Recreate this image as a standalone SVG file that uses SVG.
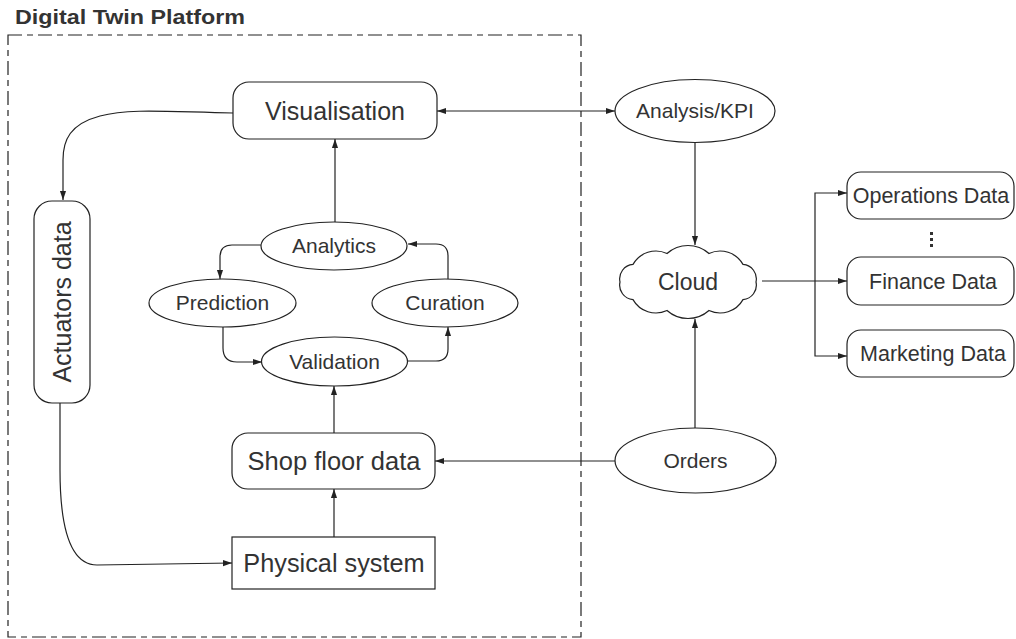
<svg xmlns="http://www.w3.org/2000/svg" width="1016" height="639" viewBox="0 0 1016 639">
<style>
text{font-family:"Liberation Sans",Arial,sans-serif;fill:#333;}
.n{fill:#fff;stroke:#222;stroke-width:1.2;}
.c{fill:none;stroke:#222;stroke-width:1.2;}
.a{marker-end:url(#ah);}
.m{text-anchor:middle;}
</style>
<defs>
<marker id="ah" viewBox="0 0 10 8" refX="10" refY="4" markerWidth="9" markerHeight="7.2" orient="auto-start-reverse" markerUnits="userSpaceOnUse">
<path d="M0,0.6 L10,4 L0,7.4 z" fill="#222"/>
</marker>
</defs>
<text x="15" y="24" font-size="20.5" font-weight="bold" textLength="230" lengthAdjust="spacingAndGlyphs">Digital Twin Platform</text>
<rect x="8" y="35" width="573" height="602" fill="none" stroke="#222" stroke-width="1.2" stroke-dasharray="14,5,6,5"/>
<g id="connectors">
<path class="c" d="M437,111 L615,111" marker-start="url(#ah)" marker-end="url(#ah)"/>
<path class="c a" d="M335,222 L335,139"/>
<path class="c a" d="M233,113 C170,112 130,108 100,116 C70,124 63,140 63,160 L63,200"/>
<path class="c a" d="M60,403 L60,470 C60,540 75,565 97,565 L232,563"/>
<path class="c a" d="M261,245 L232,245 Q220,245 220,257 L220,279"/>
<path class="c a" d="M223,327 L223,348 Q223,362 237,362 L262,362"/>
<path class="c a" d="M407,361 L436,361 Q448,361 448,349 L448,327"/>
<path class="c a" d="M448,279 L448,256 Q448,244 436,244 L408,244"/>
<path class="c a" d="M334,433 L334,386"/>
<path class="c a" d="M334,537 L334,489"/>
<path class="c a" d="M615,461 L435,461"/>
<path class="c a" d="M695,428 L695,319"/>
<path class="c a" d="M695,143 L695,245"/>
<path class="c a" d="M762,281 L847,281"/>
<path class="c a" d="M815,281 L815,193 L847,193"/>
<path class="c a" d="M815,281 L815,356 L847,356"/>
</g>
<g id="visualisation">
<rect class="n" x="233" y="82" width="204" height="57" rx="16"/>
<text class="m" x="335" y="120" font-size="25">Visualisation</text>
</g>
<g id="analysis-kpi">
<ellipse class="n" cx="695" cy="111" rx="80" ry="31.5"/>
<text class="m" x="695" y="118" font-size="21">Analysis/KPI</text>
</g>
<g id="actuators">
<rect class="n" x="34" y="201" width="56" height="202" rx="18"/>
<text class="m" transform="translate(71,302) rotate(-90)" font-size="25">Actuators data</text>
</g>
<g id="analytics">
<ellipse class="n" cx="334" cy="246" rx="73" ry="24"/>
<text class="m" x="334" y="253" font-size="21">Analytics</text>
</g>
<g id="prediction">
<ellipse class="n" cx="222.5" cy="303" rx="73.5" ry="24"/>
<text class="m" x="222.5" y="310" font-size="21">Prediction</text>
</g>
<g id="curation">
<ellipse class="n" cx="445" cy="303" rx="73" ry="24"/>
<text class="m" x="445" y="310" font-size="21">Curation</text>
</g>
<g id="validation">
<ellipse class="n" cx="334.5" cy="361.5" rx="73" ry="24.5"/>
<text class="m" x="334.5" y="368.5" font-size="21">Validation</text>
</g>
<g id="shopfloor">
<rect class="n" x="232" y="433" width="203" height="56" rx="16"/>
<text class="m" x="334" y="470" font-size="25.5">Shop floor data</text>
</g>
<g id="physical">
<rect class="n" x="232" y="537" width="203" height="52"/>
<text class="m" x="334" y="572" font-size="25.3">Physical system</text>
</g>
<g id="cloud">
<path class="n" d="M756,282 A14.5,14.5 0 0 0 743,264.4 A26.3,26.3 0 0 0 709,253.5 A31.6,31.6 0 0 0 667,253.5 A26.3,26.3 0 0 0 633,264.4 A14.5,14.5 0 0 0 620,282 A14.5,14.5 0 0 0 633,299.6 A26.3,26.3 0 0 0 667,310.5 A31.6,31.6 0 0 0 709,310.5 A26.3,26.3 0 0 0 743,299.6 A14.5,14.5 0 0 0 756,282 Z"/>
<text class="m" x="688" y="290" font-size="23">Cloud</text>
</g>
<g id="orders">
<ellipse class="n" cx="695.5" cy="460.5" rx="80.5" ry="32.5"/>
<text class="m" x="695.5" y="468" font-size="21">Orders</text>
</g>
<g id="operations">
<rect class="n" x="847" y="172" width="167" height="47" rx="14"/>
<text class="m" x="931" y="203" font-size="21.5">Operations Data</text>
</g>
<g id="dots" fill="#333">
<rect x="930" y="232" width="3" height="3"/>
<rect x="930" y="238" width="3" height="3"/>
<rect x="930" y="244" width="3" height="3"/>
</g>
<g id="finance">
<rect class="n" x="847" y="257" width="167" height="48" rx="14"/>
<text class="m" x="933" y="289" font-size="21.5">Finance Data</text>
</g>
<g id="marketing">
<rect class="n" x="847" y="330" width="167" height="47" rx="14"/>
<text class="m" x="933" y="361" font-size="21.5">Marketing Data</text>
</g>
</svg>
